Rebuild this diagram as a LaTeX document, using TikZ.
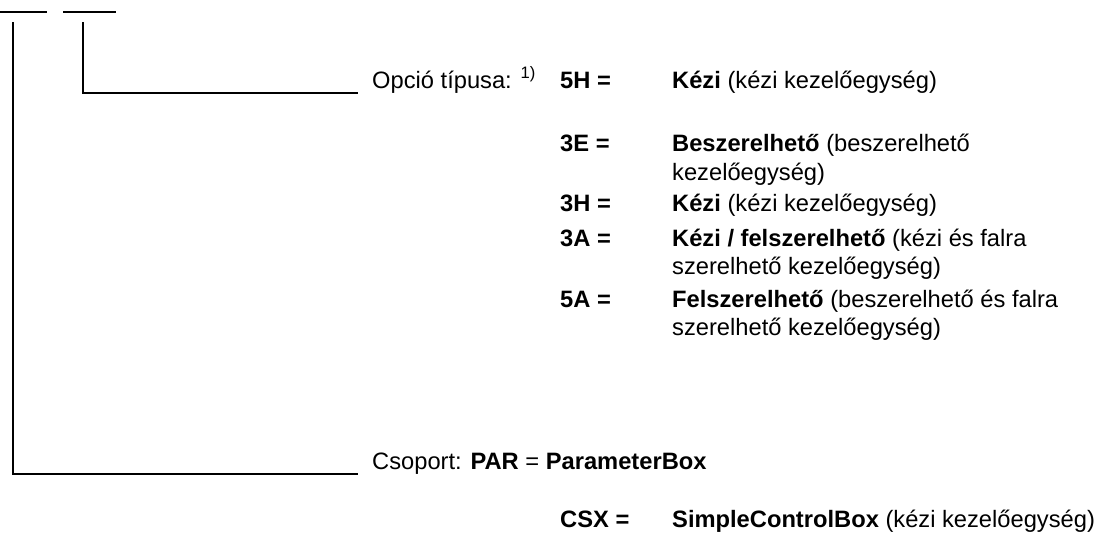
\documentclass[tikz,border=0pt]{standalone}
\usepackage{fontspec}
\setmainfont{Liberation Sans}
\newcommand\lblfont{\fontsize{23.7}{29}\selectfont}
\begin{document}
\begin{tikzpicture}[x=1pt,y=-1pt,
  conn/.style={line width=2.7pt},
  topline/.style={line width=2pt},
  lbl/.style={anchor=base west, inner sep=0pt, font=\lblfont}]
\useasboundingbox (0,0) rectangle (1105,536);
% top placeholder lines
\coordinate (t1a) at (0,12);
\coordinate (t1b) at (47,12);
\coordinate (t2a) at (63,12);
\coordinate (t2b) at (116,12);
\draw[topline] (t1a) -- (t1b);
\draw[topline] (t2a) -- (t2b);
% connectors
\coordinate (v1) at (13,22);
\coordinate (h1) at (358,474);
\coordinate (v2) at (83,22);
\coordinate (h2) at (358,93);
\draw[conn] (v1) |- (h1);
\draw[conn] (v2) |- (h2);
% labels
\node[lbl] (opcio) at (372,88) {Opció típusa: \textsuperscript{1)}};
\node[lbl] (c5h) at (560,88) {\textbf{5H =}};
\node[lbl] (d5h) at (672,88) {\textbf{Kézi} (kézi kezelőegység)};
\node[lbl] (c3e) at (560,151) {\textbf{3E =}};
\node[lbl] (d3e) at (672,151) {\textbf{Beszerelhető} (beszerelhető};
\node[lbl] (d3eb) at (672,180) {kezelőegység)};
\node[lbl] (c3h) at (560,211) {\textbf{3H =}};
\node[lbl] (d3h) at (672,211) {\textbf{Kézi} (kézi kezelőegység)};
\node[lbl] (c3a) at (560,246) {\textbf{3A =}};
\node[lbl] (d3a) at (672,246) {\textbf{Kézi / felszerelhető} (kézi és falra};
\node[lbl] (d3ab) at (672,274) {szerelhető kezelőegység)};
\node[lbl] (c5a) at (560,307) {\textbf{5A =}};
\node[lbl] (d5a) at (672,307) {\textbf{Felszerelhető} (beszerelhető és falra};
\node[lbl] (d5ab) at (672,335) {szerelhető kezelőegység)};
\node[lbl] (csoport) at (372,469) {Csoport: \textbf{PAR} = \textbf{ParameterBox}};
\node[lbl] (ccsx) at (560,527) {\textbf{CSX =}};
\node[lbl] (dcsx) at (672,527) {\textbf{SimpleControlBox} (kézi kezelőegység)};
\end{tikzpicture}
\end{document}
